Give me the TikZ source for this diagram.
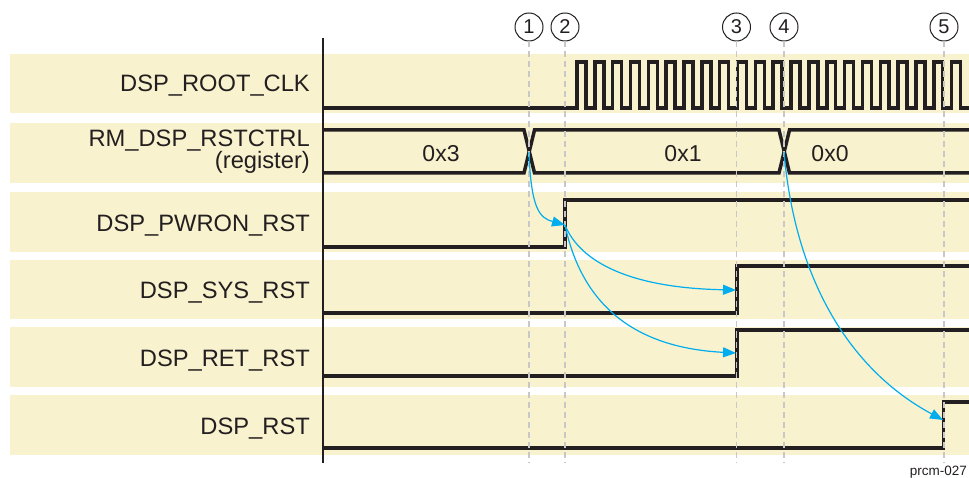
\documentclass[tikz,border=0pt]{standalone}
\usepackage{fontspec}
\setmainfont{Liberation Sans}
\usetikzlibrary{arrows.meta}
\definecolor{band}{RGB}{249,242,206}
\definecolor{ink}{RGB}{35,31,32}
\definecolor{arrowblue}{RGB}{0,174,239}
\definecolor{guide}{RGB}{200,200,200}
\tikzset{
  bandbox/.style={fill=band, draw=none},
  sig/.style={draw=ink, line width=3.5pt},
  axisline/.style={draw=ink, line width=1.4pt},
  guideline/.style={draw=guide, line width=1.1pt, dash pattern=on 6pt off 4pt},
  cause/.style={draw=arrowblue, line width=1.2pt, -{Triangle[length=13pt,width=10pt]}},
  marker/.style={circle, draw=ink, line width=1pt, minimum size=28pt, inner sep=0pt,
    font=\fontsize{20pt}{22pt}\selectfont, text=ink},
  siglabel/.style={anchor=base east, inner sep=0pt, text=ink,
    font=\fontsize{23.7pt}{28pt}\selectfont},
  vallabel/.style={anchor=base, inner sep=0pt, text=ink,
    font=\fontsize{23pt}{27pt}\selectfont},
}
\begin{document}
\begin{tikzpicture}[x=1pt,y=-1pt]
\path[use as bounding box] (0,0) rectangle (969,478);
% bands
\foreach \top/\bot in {54/113,123/183,192/252,260/319,327/387,395/455}
  \path[bandbox] (10,\top) rectangle (969,\bot);
% labels
\node[siglabel] (lclk) at (310,92) {DSP\_ROOT\_CLK};
\node[siglabel] (lreg) at (310,146.5) {RM\_DSP\_RSTCTRL};
\node[siglabel] (lreg2) at (310,168.5) {(register)};
\node[siglabel] (lpwr) at (310,231.5) {DSP\_PWRON\_RST};
\node[siglabel] (lsys) at (310,298.5) {DSP\_SYS\_RST};
\node[siglabel] (lret) at (310,366) {DSP\_RET\_RST};
\node[siglabel] (lrst) at (310,434) {DSP\_RST};
% axis
\coordinate (axtop) at (323,38);
\coordinate (axbot) at (323,463);
\draw[axisline] (axtop) -- (axbot);
% clock
\draw[sig] (323,108) -- (577,108)
  \foreach \i in {0,...,21} { -- ++(0,-46) -- ++(8.92,0) -- ++(0,46) -- ++(8.92,0) };
% register
\draw[sig] (323,130) -- (524,130) -- (534.5,173) -- (779,173) -- (789.5,130) -- (969,130);
\draw[sig] (323,173) -- (524,173) -- (534.5,130) -- (779,130) -- (789.5,173) -- (969,173);
\node[vallabel] (v3) at (441,161.5) {0x3};
\node[vallabel] (v1) at (683,161.5) {0x1};
\node[vallabel] (v0) at (830,161.5) {0x0};
% resets
\draw[sig] (323,247) -- (565,247) -- (565,200) -- (969,200);
\draw[sig] (323,313) -- (737,313) -- (737,266) -- (969,266);
\draw[sig] (323,376) -- (737,376) -- (737,330) -- (969,330);
\draw[sig] (323,448) -- (943.5,448) -- (943.5,402) -- (969,402);
% guide lines and markers
\foreach \n/\x in {1/529,2/565,3/736.5,4/784,5/944} {
  \node[marker] (m\n) at (\x,27) {\n};
  \coordinate (g\n) at (\x,463);
  \draw[guideline] (m\n.south) -- (g\n);
}
% cause arrows
\coordinate (x1) at (529,152);
\coordinate (p2) at (565,225);
\coordinate (s3) at (736,290);
\coordinate (r3) at (736,353);
\coordinate (x4) at (784,152);
\coordinate (d5) at (943,420);
\draw[cause] (x1) .. controls (531,210) and (540,218) .. (p2);
\draw[cause] (p2) .. controls (580,262) and (630,288) .. (s3);
\draw[cause] (p2) .. controls (583,310) and (640,348) .. (r3);
\draw[cause] (x4) .. controls (795,280) and (850,370) .. (d5);
% figure id
\node[anchor=base east, inner sep=0pt, text=ink, font=\fontsize{13.5pt}{16pt}\selectfont] (fid) at (967,475) {prcm-027};
\end{tikzpicture}
\end{document}
